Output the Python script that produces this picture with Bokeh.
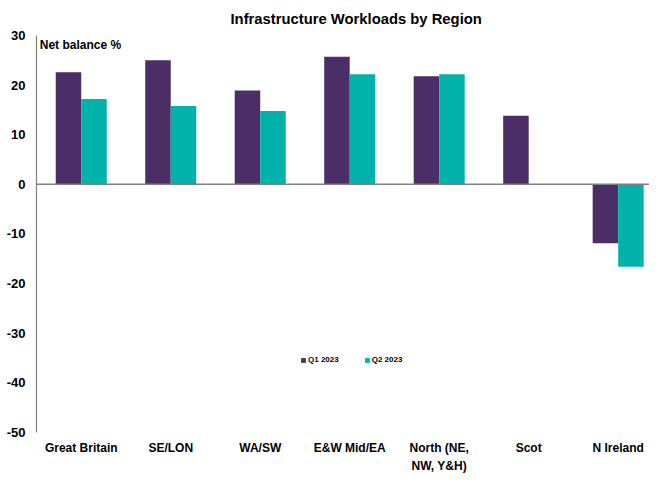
from bokeh.plotting import figure
from bokeh.models import FixedTicker, Span, Label, Legend, LegendItem, ColumnDataSource
from bokeh.embed import file_html
from bokeh.resources import INLINE

categories = ["Great Britain", "SE/LON", "WA/SW", "E&W Mid/EA", "North (NE,\nNW, Y&H)", "Scot", "N Ireland"]
q1_2023 = [22.6, 25.0, 18.9, 25.7, 21.8, 13.8, -11.9]
q2_2023 = [17.2, 15.8, 14.8, 22.2, 22.2, None, -16.6]
y_ticks = [30, 20, 10, 0, -10, -20, -30, -40, -50]

FONT = "Liberation Sans"
PURPLE = "#4B2E66"
TEAL = "#00B2A9"

pos = [i + 0.5 for i in range(len(categories))]
bw = 0.285
Y0, Y1 = min(y_ticks), max(y_ticks)

p = figure(width=649, height=481, output_backend="svg", toolbar_location=None,
           x_range=(0, 6.85), y_range=(-59.9, Y1),
           min_border_left=36, min_border_right=0, min_border_top=0, min_border_bottom=0)

src1 = ColumnDataSource(dict(x=[x - bw / 2 for x in pos], top=q1_2023))
src2 = ColumnDataSource(dict(x=[x + bw / 2 for x in pos],
                             top=[v if v is not None else float("nan") for v in q2_2023]))
r1 = p.vbar(x="x", top="top", bottom=0, width=bw, source=src1, fill_color=PURPLE, line_color=None)
r2 = p.vbar(x="x", top="top", bottom=0, width=bw, source=src2, fill_color=TEAL, line_color=None)

p.add_layout(Span(location=0, dimension="width", line_color="#808080", line_width=1.5))

# category names below the lowest tick, at the category positions
lab_src = ColumnDataSource(dict(x=pos, y=[Y0] * len(pos), text=categories))
p.text(x="x", y="y", text="text", source=lab_src, y_offset=9, text_align="center",
       text_baseline="top", text_font={"value": FONT}, text_font_size="12px",
       text_font_style="bold", text_color="black", text_line_height=1.25)

# title
p.title.text = "Infrastructure Workloads by Region"
p.title.align = "left"
p.title.text_font = FONT
p.title.text_font_size = "14.8px"
p.title.text_font_style = "bold"
p.title.text_color = "black"
p.title.offset = 194
p.title.standoff = 17

p.xaxis.visible = False

ya = p.yaxis[0]
ya.ticker = FixedTicker(ticks=y_ticks)
ya.bounds = (Y0, Y1)
ya.major_label_overrides = {t: str(t) for t in y_ticks}
ya.axis_line_color = "#808080"
ya.axis_line_width = 1.2
ya.major_tick_line_color = None
ya.minor_tick_line_color = None
ya.major_tick_out = 0
ya.major_tick_in = 0
ya.minor_tick_out = 0
ya.axis_label_standoff = 0
ya.major_label_text_font = FONT
ya.major_label_text_font_size = "13px"
ya.major_label_text_font_style = "bold"
ya.major_label_text_color = "black"
ya.major_label_standoff = 11

p.xgrid.grid_line_color = None
p.ygrid.grid_line_color = None
p.outline_line_color = None

p.add_layout(Label(x=0.036, y=28.0, text="Net balance %", text_font=FONT, text_font_size="12px",
                   text_font_style="bold", text_color="black", text_baseline="middle"))

legend = Legend(items=[LegendItem(label="Q1 2023", renderers=[r1]),
                       LegendItem(label="Q2 2023", renderers=[r2])],
                orientation="horizontal", location=(264, 116),
                glyph_width=6, glyph_height=6, label_standoff=2, spacing=25,
                label_text_font=FONT, label_text_font_size="8px", label_text_font_style="bold",
                label_text_color="black", label_height=11, label_width=20,
                padding=0, margin=0, border_line_color=None, background_fill_alpha=0)
p.add_layout(legend, "center")

open("out.html", "w").write(file_html(p, INLINE))
